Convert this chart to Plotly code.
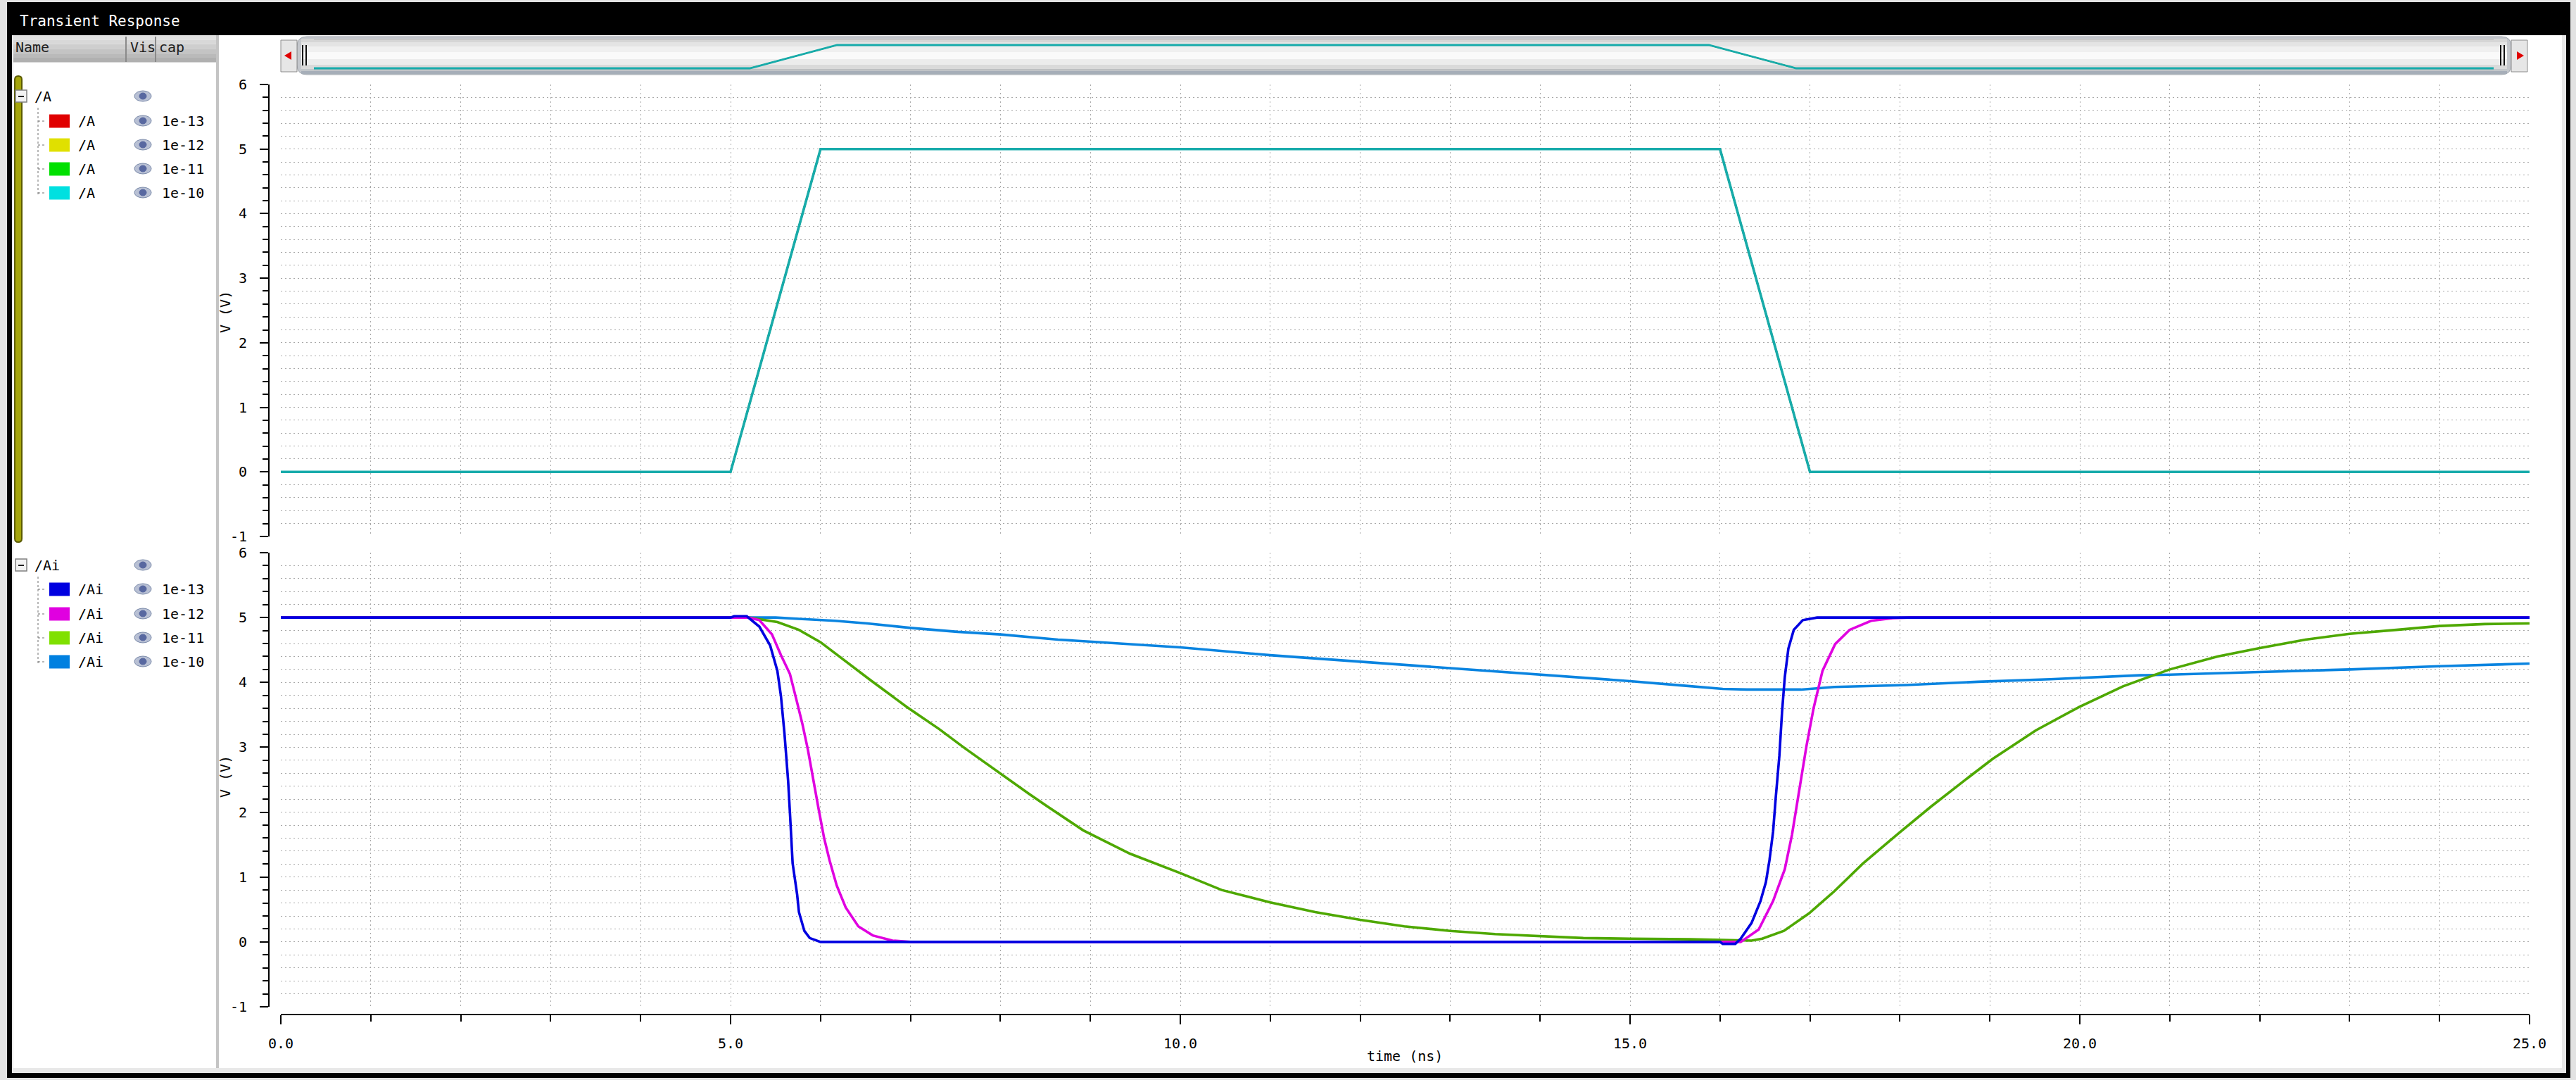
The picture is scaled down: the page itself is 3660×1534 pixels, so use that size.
import plotly.graph_objects as go

W, H = 3660, 1534
FONT = "DejaVu Sans Mono"

# ---------------- data ----------------
caps = ["1e-13", "1e-12", "1e-11", "1e-10"]

# /A (input ramp), one per capacitance
A_time = [0, 5, 6, 16, 17, 25]
A_v_1e13 = [0, 0, 5, 5, 0, 0]
A_v_1e12 = [0, 0, 5, 5, 0, 0]
A_v_1e11 = [0, 0, 5, 5, 0, 0]
A_v_1e10 = [0, 0, 5, 5, 0, 0]
A_legend_colors = ["#e00000", "#e0e000", "#00e000", "#00e0e0"]
A_line_colors = ["#e00000", "#e0e000", "#00e000", "#17abab"]

# /Ai (inverter output)
Ai_t_1e13 = [0, 5.0, 5.04, 5.18, 5.32, 5.44, 5.52, 5.56, 5.6, 5.64, 5.66, 5.69, 5.74, 5.76,
             5.82, 5.88, 6.0, 16.0, 16.03, 16.17, 16.23, 16.35, 16.45, 16.51, 16.55, 16.59,
             16.62, 16.66, 16.69, 16.72, 16.76, 16.82, 16.92, 17.08, 25]
Ai_v_1e13 = [5, 5, 5.02, 5.02, 4.86, 4.57, 4.18, 3.79, 3.2, 2.48, 1.99, 1.21, 0.73, 0.46,
             0.17, 0.06, 0, 0, -0.03, -0.03, 0.05, 0.29, 0.63, 0.92, 1.26, 1.7,
             2.23, 2.87, 3.55, 4.08, 4.52, 4.81, 4.96, 5.0, 5.0]

Ai_t_1e12 = [0, 5.0, 5.2, 5.32, 5.46, 5.56, 5.66, 5.74, 5.8, 5.86, 5.92, 5.98, 6.04, 6.1,
             6.18, 6.28, 6.42, 6.58, 6.8, 7.0, 16.0, 16.23, 16.43, 16.59, 16.72, 16.8,
             16.88, 16.96, 17.04, 17.14, 17.28, 17.44, 17.68, 17.92, 18.1, 25]
Ai_v_1e12 = [5, 5, 5.0, 4.96, 4.74, 4.42, 4.13, 3.69, 3.35, 2.96, 2.48, 2.04, 1.6, 1.26,
             0.87, 0.53, 0.24, 0.10, 0.02, 0, 0, 0.0, 0.19, 0.63, 1.12, 1.65,
             2.33, 3.01, 3.6, 4.18, 4.59, 4.81, 4.95, 4.99, 5.0, 5.0]

Ai_t_1e11 = [0, 5.0, 5.2, 5.52, 5.76, 6.0, 6.32, 6.56, 6.96, 7.32, 7.6, 7.92, 8.32, 8.52,
             8.92, 9.44, 9.76, 10.0, 10.46, 11.0, 11.5, 12.0, 12.49, 13.0, 13.5, 14.0,
             14.48, 15.0, 15.67, 16.35, 16.47, 16.71, 16.99, 17.27, 17.59, 17.99, 18.35,
             18.71, 19.03, 19.51, 19.99, 20.48, 21.0, 21.53, 22.0, 22.51, 23.0, 23.52,
             24.0, 24.5, 25.0]
Ai_v_1e11 = [5, 5, 5.0, 4.93, 4.81, 4.62, 4.28, 4.03, 3.62, 3.28, 2.99, 2.67, 2.28, 2.09,
             1.72, 1.36, 1.19, 1.06, 0.8, 0.61, 0.46, 0.34, 0.24, 0.17, 0.12, 0.09,
             0.06, 0.05, 0.04, 0.02, 0.05, 0.17, 0.44, 0.78, 1.21, 1.68, 2.09,
             2.48, 2.82, 3.26, 3.62, 3.94, 4.2, 4.4, 4.53, 4.66, 4.75, 4.81,
             4.87, 4.9, 4.91]

Ai_t_1e10 = [0, 5.0, 5.5, 5.76, 6.16, 6.52, 7.0, 7.52, 8.0, 8.64, 9.0, 9.64, 10.0, 11.0,
             12.0, 13.0, 14.0, 15.0, 15.6, 16.03, 16.3, 16.9, 17.27, 18.07, 18.87, 19.67,
             20.67, 21.0, 22.0, 23.0, 24.0, 25.0]
Ai_v_1e10 = [5, 5, 5.0, 4.98, 4.95, 4.91, 4.84, 4.78, 4.74, 4.66, 4.63, 4.57, 4.54, 4.42,
             4.32, 4.22, 4.12, 4.02, 3.95, 3.9, 3.89, 3.89, 3.93, 3.96, 4.01, 4.05,
             4.11, 4.12, 4.16, 4.2, 4.25, 4.29]
Ai_legend_colors = ["#0000e0", "#e000e0", "#80e000", "#0080e0"]
Ai_line_colors = ["#0000e0", "#e000e0", "#4ea800", "#0a84e0"]

# axis ticks
x_tick_vals = [0, 5, 10, 15, 20, 25]
x_tick_text = ["0.0", "5.0", "10.0", "15.0", "20.0", "25.0"]
y_tick_vals = [-1, 0, 1, 2, 3, 4, 5, 6]
y_tick_text = ["-1", "0", "1", "2", "3", "4", "5", "6"]

# ---------------- helpers ----------------
def px(x):
    return x / W


def py(y):
    return 1 - y / H


shapes = []
annotations = []


def rect(x0, y0, x1, y1, fill, line=None, lw=0, layer="below"):
    shapes.append(dict(type="rect", xref="paper", yref="paper",
                       x0=px(x0), x1=px(x1), y0=py(y1), y1=py(y0),
                       fillcolor=fill, line=dict(color=line or fill, width=lw), layer=layer))


def line(x0, y0, x1, y1, color, lw=1, dash="solid", layer="below"):
    shapes.append(dict(type="line", xref="paper", yref="paper",
                       x0=px(x0), x1=px(x1), y0=py(y0), y1=py(y1),
                       line=dict(color=color, width=lw, dash=dash), layer=layer))


def ellipse(x0, y0, x1, y1, fill, line_c, lw=1, layer="above"):
    shapes.append(dict(type="circle", xref="paper", yref="paper",
                       x0=px(x0), x1=px(x1), y0=py(y1), y1=py(y0),
                       fillcolor=fill, line=dict(color=line_c, width=lw), layer=layer))


def pathp(points, fill, line_c=None, lw=0, layer="below"):
    d = "M " + " L ".join(f"{px(a)},{py(b)}" for a, b in points) + " Z"
    shapes.append(dict(type="path", xref="paper", yref="paper", path=d,
                       fillcolor=fill, line=dict(color=line_c or fill, width=lw), layer=layer))


def rounded(x0, y0, x1, y1, r, fill, line_c, lw=1, layer="below"):
    def P(a, b):
        return f"{px(a)},{py(b)}"
    d = (f"M {P(x0 + r, y0)} L {P(x1 - r, y0)} Q {P(x1, y0)} {P(x1, y0 + r)} "
         f"L {P(x1, y1 - r)} Q {P(x1, y1)} {P(x1 - r, y1)} L {P(x0 + r, y1)} "
         f"Q {P(x0, y1)} {P(x0, y1 - r)} L {P(x0, y0 + r)} Q {P(x0, y0)} {P(x0 + r, y0)} Z")
    shapes.append(dict(type="path", xref="paper", yref="paper", path=d,
                       fillcolor=fill, line=dict(color=line_c, width=lw), layer=layer))


def text(x, y, s, color="black", size=19, xanchor="left", angle=0):
    annotations.append(dict(xref="paper", yref="paper", x=px(x), y=py(y), text=s,
                            showarrow=False, xanchor=xanchor, yanchor="middle",
                            textangle=angle,
                            font=dict(family=FONT, size=size, color=color)))


# ---------------- window chrome ----------------
rect(10, 3, 3652, 1531, "#000000")
rect(17, 50, 3646, 1524, "#e8e8e8")
rect(19, 50, 3640, 1517, "#ffffff")
text(26, 30, "Transient Response", color="white", size=21)

# left panel header
hdr = ["#e2e2e2", "#d8d8d8", "#cecece", "#c4c4c4", "#bababa", "#b0b0b0"]
for i, c in enumerate(hdr):
    rect(19, 50 + i * 6.4, 307, 50 + (i + 1) * 6.4, c)
line(179, 52, 179, 88, "#8a8a8a", 2)
line(221, 52, 221, 88, "#8a8a8a", 2)
text(20, 67, "Name", color="#202020", size=20)
text(183, 67, "Vis", color="#202020", size=20)
text(224, 67, "cap", color="#202020", size=20)
rect(307, 50, 311, 1517, "#c4c4c4")

# olive scroll bar
rounded(21, 108, 31, 770, 5, "#a5a50c", "#5c5c00", 2)


def group(y_head, rows_y, name, colors):
    rect(22, y_head - 9, 38, y_head + 8, "#f2f2f2", "#808080", 1.5, layer="above")
    line(26, y_head, 34, y_head, "#202020", 2, layer="above")
    text(47, y_head, name, size=20)
    ellipse(191, y_head - 8, 215, y_head + 7, "#b8c0d4", "#7888a8", 1)
    ellipse(198, y_head - 5, 208, y_head + 4, "#5868a0", "#5868a0", 1)
    line(54, y_head + 16, 54, rows_y[-1] + 2, "#707070", 1, "dot")
    for cy, col, cap in zip(rows_y, colors, caps):
        line(54, cy, 63, cy, "#707070", 1, "dot")
        rect(70, cy - 9.5, 99, cy + 9.5, col)
        text(109, cy, name, size=20)
        ellipse(191, cy - 8, 215, cy + 7, "#b8c0d4", "#7888a8", 1)
        ellipse(198, cy - 5, 208, cy + 4, "#5868a0", "#5868a0", 1)
        text(228, cy, cap, size=20)


group(137, [172, 206, 240, 274], "/A", A_legend_colors)
group(803, [837, 872, 906, 940], "/Ai", Ai_legend_colors)

# top scrollbar (overview)
rounded(422, 52, 3568, 106, 14, "#c4c7cc", "#a0a6ae", 1)
stripes = [(55, 60, "#d6d6d6"), (60, 66, "#e4e4e4"), (66, 74, "#f0f0f0"),
           (74, 84, "#fafafa"), (84, 92, "#ececec"), (92, 98, "#dadada"),
           (98, 101, "#c2c6ca"), (101, 105, "#a6aeb8")]
for y0, y1, c in stripes:
    rect(428, y0, 3562, y1, c)
line(446, 56, 3543, 56, "#b8b8b8", 1)
line(446, 99, 3543, 99, "#b8b8b8", 1)
for gx in (430, 435, 3553, 3558):
    line(gx, 64, gx, 93, "#101010", 2)
rect(399, 57, 422, 102, "#e6e6e6", "#8c8c8c", 1)
rect(3568, 57, 3591, 102, "#e6e6e6", "#8c8c8c", 1)
pathp([(404, 79), (414, 73), (414, 85)], "#e00000")
pathp([(3586, 79), (3576, 73), (3576, 85)], "#e00000")

# axis titles
text(320, 443, "V (V)", xanchor="center", angle=-90, size=20)
text(320, 1103, "V (V)", xanchor="center", angle=-90, size=20)
text(1996, 1500, "time (ns)", xanchor="center", size=20)

# ---------------- traces ----------------
fig = go.Figure()
A_series = [A_v_1e13, A_v_1e12, A_v_1e11, A_v_1e10]
A_widths = [2.5, 2.5, 2.5, 3.6]
for vals, col, cap, wd in zip(A_series, A_line_colors, caps, A_widths):
    fig.add_trace(go.Scatter(x=A_time, y=vals, mode="lines", name=f"/A {cap}",
                             line=dict(color=col, width=wd), xaxis="x", yaxis="y"))
for vals, col, cap, wd in zip(A_series, A_line_colors, caps, A_widths):
    fig.add_trace(go.Scatter(x=A_time, y=vals, mode="lines", name=f"/A {cap} overview",
                             line=dict(color=col, width=wd - 0.8), xaxis="x3", yaxis="y3"))

Ai_series = [(Ai_t_1e10, Ai_v_1e10, Ai_line_colors[3], caps[3]),
             (Ai_t_1e11, Ai_v_1e11, Ai_line_colors[2], caps[2]),
             (Ai_t_1e12, Ai_v_1e12, Ai_line_colors[1], caps[1]),
             (Ai_t_1e13, Ai_v_1e13, Ai_line_colors[0], caps[0])]
for t, v, col, cap in Ai_series:
    fig.add_trace(go.Scatter(x=t, y=v, mode="lines", name=f"/Ai {cap}",
                             line=dict(color=col, width=3.6), xaxis="x2", yaxis="y2"))

# ---------------- axes ----------------
GRID = "#a9a9a9"
GDASH = "2px,4px"
xdom = [px(399), px(3594)]
tickfont = dict(family=FONT, size=20, color="black")


def yaxis(top, bottom):
    return dict(domain=[py(bottom), py(top)], range=[-1, 6], anchor="free",
                position=px(382), side="left", showline=True, linecolor="black",
                linewidth=2, ticks="outside", ticklen=12, tickwidth=2, tickcolor="black",
                tickmode="array", tickvals=y_tick_vals, ticktext=y_tick_text,
                tickfont=tickfont, ticklabelstandoff=14, automargin=False,
                showgrid=True, gridcolor=GRID, griddash=GDASH, gridwidth=1,
                zeroline=False, fixedrange=True,
                minor=dict(tickmode="linear", tick0=0, dtick=0.2, ticks="outside",
                           ticklen=8, tickwidth=2, tickcolor="black", showgrid=True,
                           gridcolor=GRID, griddash=GDASH, gridwidth=1))


fig.update_layout(
    template="none",
    width=W, height=H, autosize=False,
    margin=dict(l=0, r=0, t=0, b=0, pad=0, autoexpand=False),
    paper_bgcolor="#e2e2e2", plot_bgcolor="rgba(0,0,0,0)",
    showlegend=False,
    xaxis=dict(domain=xdom, range=[0, 25], anchor="y", showticklabels=False,
               ticks="", showline=False, zeroline=False, tickmode="linear", tick0=0,
               dtick=1, showgrid=True, gridcolor=GRID, griddash=GDASH, gridwidth=1,
               automargin=False, fixedrange=True),
    yaxis=yaxis(120, 762),
    xaxis2=dict(domain=xdom, range=[0, 25], anchor="free", position=py(1441),
                showline=True, linecolor="black", linewidth=2, ticks="outside",
                ticklen=13, tickwidth=2, tickcolor="black", tickmode="array",
                tickvals=x_tick_vals, ticktext=x_tick_text, tickfont=tickfont,
                ticklabelstandoff=10, showgrid=True, gridcolor=GRID, griddash=GDASH,
                gridwidth=1, zeroline=False, automargin=False, fixedrange=True,
                minor=dict(tickmode="linear", tick0=0, dtick=1, ticks="outside",
                           ticklen=9, tickwidth=2, tickcolor="black", showgrid=True,
                           gridcolor=GRID, griddash=GDASH, gridwidth=1)),
    yaxis2=yaxis(785, 1430),
    xaxis3=dict(domain=[px(446), px(3543)], range=[0, 25], anchor="y3", visible=False,
                automargin=False, fixedrange=True),
    yaxis3=dict(domain=[py(101), py(60)], range=[-0.606, 5.606], anchor="x3",
                visible=False, automargin=False, fixedrange=True),
    shapes=shapes,
    annotations=annotations,
)

fig.write_html(
    "out.html",
    config={"displayModeBar": False},
    post_script=("document.body.style.margin='0';"
                 "document.body.style.padding='0';"
                 "document.body.style.overflow='hidden';"
                 "document.documentElement.style.overflow='hidden';"),
)
